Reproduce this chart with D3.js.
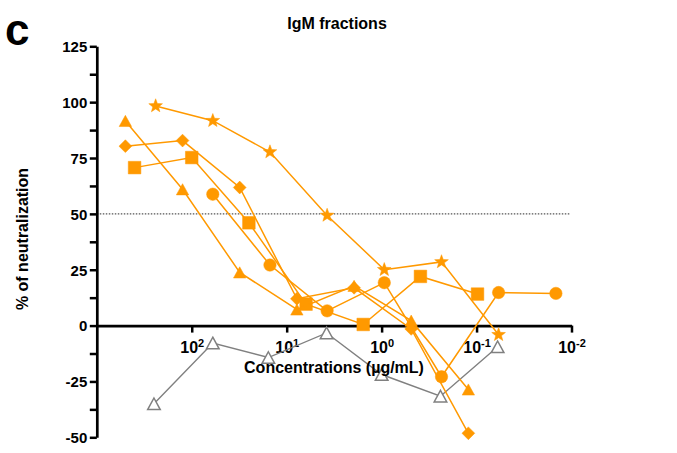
<!DOCTYPE html>
<html>
<head>
<meta charset="utf-8">
<script src="https://cdn.jsdelivr.net/npm/d3@7"></script>
<style>
  body { margin: 0; background: #fff; }
  svg { display: block; }
  text { font-family: "Liberation Sans", Arial, Helvetica, sans-serif; font-weight: bold; fill: #000; }
</style>
</head>
<body>
<svg id="chart" width="677" height="453"></svg>
<script>
// Concentrations (µg/mL) and % of neutralization for each IgM fraction
const starConc     = [240, 60, 15, 3.75, 0.9375, 0.234, 0.0586];
const starPct      = [98.3, 91.7, 77.7, 49.3, 25.0, 28.5, -4.1];

const diamondConc  = [500, 125, 31.25, 7.81, 1.95, 0.488, 0.122];
const diamondPct   = [80.3, 82.8, 61.8, 12.0, 16.9, -1.5, -48.2];

const squareConc   = [400, 100, 25, 6.25, 1.5625, 0.39, 0.0977];
const squarePct    = [70.7, 75.2, 46.0, 9.6, 0.5, 22.0, 14.1];

const circleConc   = [60, 15, 3.75, 0.9375, 0.234, 0.0586, 0.0146];
const circlePct    = [58.8, 27.1, 6.6, 19.2, -22.9, 14.8, 14.4];

const triangleConc = [500, 125, 31.25, 7.81, 1.95, 0.488, 0.122];
const trianglePct  = [91.6, 61.0, 23.8, 7.2, 17.8, 2.2, -28.6];

const openConc     = [250, 60, 15.6, 3.8, 1.0, 0.24, 0.06];
const openPct      = [-35.0, -7.8, -14.3, -3.3, -21.9, -31.6, -9.5];

// Axis ticks
const xTickValues = [100, 10, 1, 0.1, 0.01];
const xTickExponents = ["2", "1", "0", "-1", "-2"];
const yTickValues = d3.range(-50, 125.1, 12.5);
const thresholdPct = 50;

const ORANGE = "#FF9900";
const GREY = "#808080";

const svg = d3.select("#chart");

const x = d3.scaleLog().domain([1000, 0.01]).range([96.8, 571.5]);
const y = d3.scaleLinear().domain([-50, 125]).range([437.3, 46.3]);

// Marker shapes, centred on the data point
const shapes = {
  circle: () => d3.symbol().type(d3.symbolCircle).size(Math.PI * 6.2 * 6.2)(),
  square: () => { const h = 6.3; return `M${-h},${-h}H${h}V${h}H${-h}Z`; },
  diamond: () => { const h = 6.4; return `M0,${-h}L${h},0L0,${h}L${-h},0Z`; },
  triangle: () => { const w = 6.2, h = 5.6; return `M0,${-h}L${w},${h}L${-w},${h}Z`; },
  openTriangle: () => { const w = 6.3, h = 5.8; return `M0,${-h}L${w},${h}L${-w},${h}Z`; },
  star: () => {
    const R = 7.2, r = 3.0, p = d3.path();
    for (let i = 0; i < 10; i++) {
      const a = -Math.PI / 2 + i * Math.PI / 5, rr = i % 2 ? r : R;
      const px = rr * Math.cos(a), py = rr * Math.sin(a);
      i ? p.lineTo(px, py) : p.moveTo(px, py);
    }
    p.closePath();
    return p.toString();
  }
};

const series = [
  { conc: openConc, pct: openPct, shape: "openTriangle", color: GREY, fill: "#fff", lw: 1.4 },
  { conc: starConc, pct: starPct, shape: "star", color: ORANGE, fill: ORANGE, lw: 1.5 },
  { conc: diamondConc, pct: diamondPct, shape: "diamond", color: ORANGE, fill: ORANGE, lw: 1.5 },
  { conc: squareConc, pct: squarePct, shape: "square", color: ORANGE, fill: ORANGE, lw: 1.5 },
  { conc: triangleConc, pct: trianglePct, shape: "triangle", color: ORANGE, fill: ORANGE, lw: 1.5 },
  { conc: circleConc, pct: circlePct, shape: "circle", color: ORANGE, fill: ORANGE, lw: 1.5 }
];

// Dotted 50% reference line
svg.append("line")
  .attr("x1", x(1000)).attr("x2", x(0.0105))
  .attr("y1", y(thresholdPct)).attr("y2", y(thresholdPct))
  .attr("stroke", "#555").attr("stroke-width", 1.2)
  .attr("stroke-dasharray", "1.5,1.5");

// Y axis (plain hyphen for negative labels)
const yAxis = svg.append("g")
  .attr("transform", `translate(${x(1000)},0)`)
  .call(d3.axisLeft(y).tickValues(yTickValues).tickSize(7).tickSizeOuter(0).tickPadding(2.5)
    .tickFormat(d => (d % 25 === 0 ? String(d) : "")));
yAxis.selectAll("text").style("font-size", "15px").attr("dy", "0.36em");

// X axis along 0 %
const xAxis = svg.append("g")
  .attr("transform", `translate(0,${y(0)})`)
  .call(d3.axisBottom(x).tickValues(xTickValues).tickSize(7).tickSizeOuter(0).tickFormat(""));
xAxis.selectAll(".tick text").remove();
xAxis.selectAll(".tick").each(function (d, i) {
  const t = d3.select(this).append("text")
    .attr("text-anchor", "middle")
    .attr("y", 27);
  t.append("tspan").style("font-size", "16px").text("10");
  t.append("tspan").style("font-size", "11px").attr("dy", -5.8).text(xTickExponents[i]);
});

[yAxis, xAxis].forEach(g => {
  g.selectAll("path.domain").attr("stroke", "#000").attr("stroke-width", 2.7);
  g.selectAll(".tick line").attr("stroke", "#000").attr("stroke-width", 2.5);
});

// Series lines and markers
const line = d3.line().x(d => x(d[0])).y(d => y(d[1]));
series.forEach(s => {
  const pts = s.conc.map((c, i) => [c, s.pct[i]]);
  svg.append("path")
    .datum(pts)
    .attr("d", line)
    .attr("fill", "none")
    .attr("stroke", s.color)
    .attr("stroke-width", s.lw);
  svg.append("g").selectAll("path")
    .data(pts)
    .join("path")
    .attr("transform", d => `translate(${x(d[0])},${y(d[1])})`)
    .attr("d", shapes[s.shape]())
    .attr("fill", s.fill)
    .attr("stroke", s.color)
    .attr("stroke-width", s.shape === "openTriangle" ? 1.5 : 0.5);
});

// Titles and labels
svg.append("text").attr("x", 337).attr("y", 29).attr("text-anchor", "middle")
  .style("font-size", "16px").text("IgM fractions");
svg.append("text").attr("x", 334).attr("y", 373).attr("text-anchor", "middle")
  .style("font-size", "16px").text("Concentrations (µg/mL)");
svg.append("text").attr("transform", "translate(28,239) rotate(-90)").attr("text-anchor", "middle")
  .style("font-size", "16px").text("% of neutralization");
svg.append("text").attr("x", 5).attr("y", 45)
  .style("font-size", "44px").text("c");
</script>
</body>
</html>
